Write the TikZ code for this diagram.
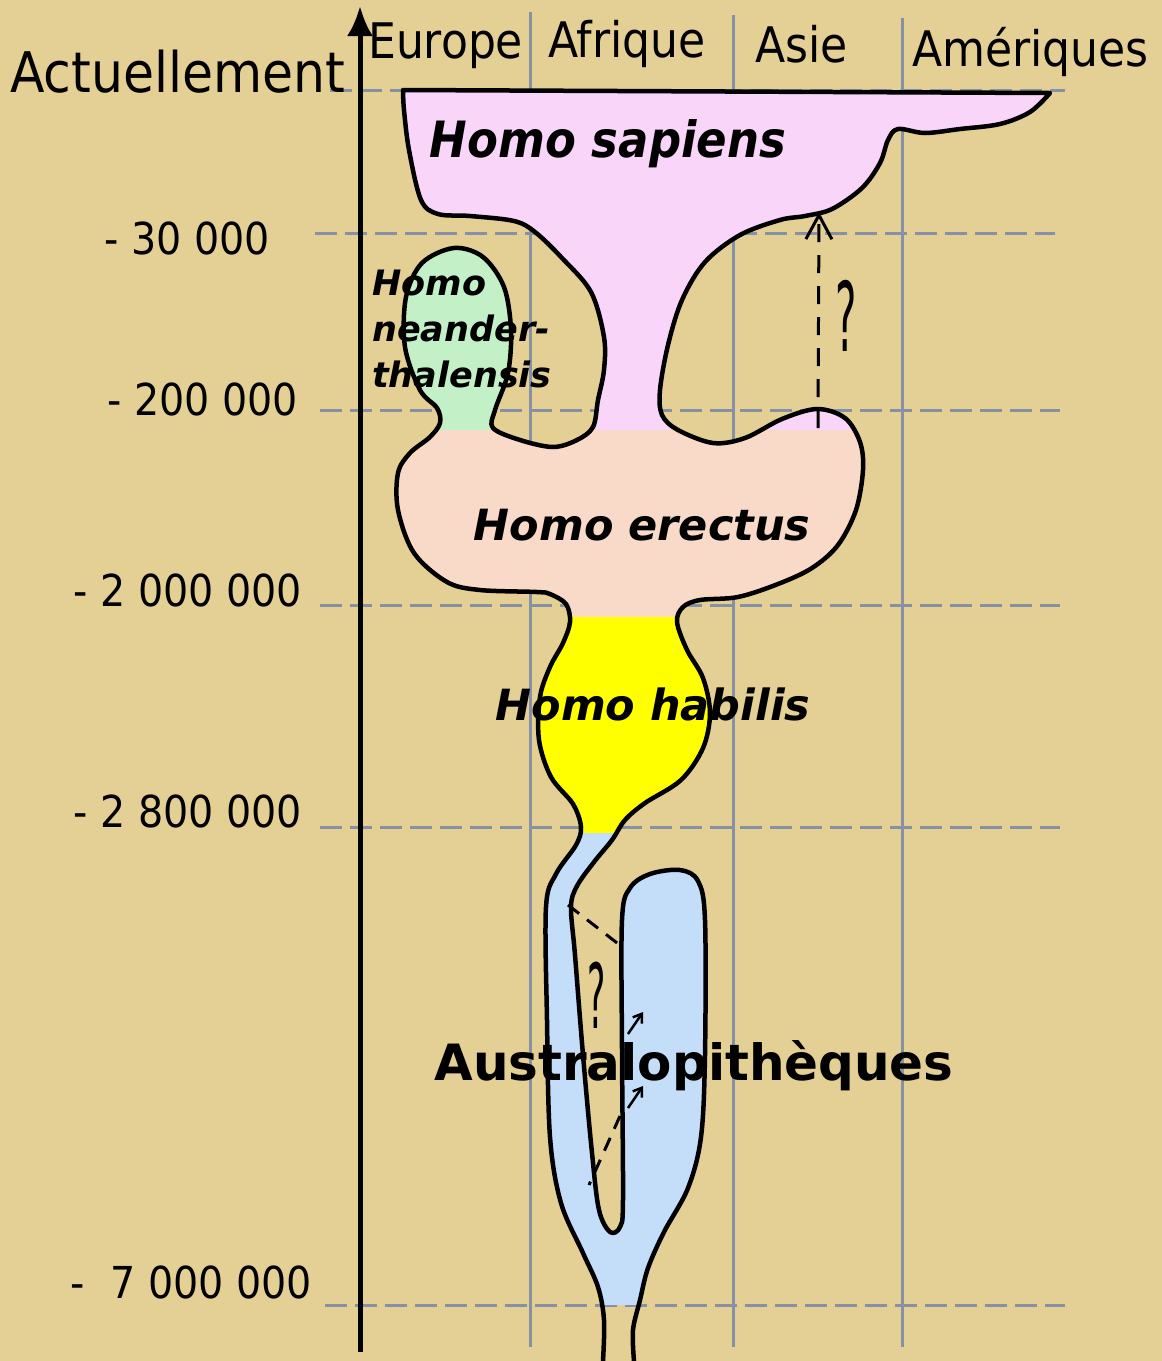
\documentclass[tikz,border=0pt]{standalone}
\usepackage{fontspec}
\setmainfont{DejaVu Sans}
\newfontfamily\condfont{DejaVu Sans Condensed}
\usetikzlibrary{arrows.meta}

\definecolor{papyrus}{RGB}{228,207,148}
\definecolor{gridgrey}{RGB}{135,145,165}
\definecolor{sapcol}{RGB}{249,214,249}
\definecolor{neacol}{RGB}{196,240,200}
\definecolor{erecol}{RGB}{249,218,200}
\definecolor{habcol}{RGB}{255,255,0}
\definecolor{auscol}{RGB}{196,222,249}

% one outline for the whole tree, open at the bottom
\newcommand\hominoutline{%
  (403,90) -- (1050,93)
  -- plot[smooth, tension=0.55] coordinates {(1050,93) (1030,112) (1000,124) (960,129) (925,133)
     (898,129) (888,140) (880,163) (862,188) (832,209) (805,216) (780,220) (740,235) (705,262)
     (682,300) (668,345) (660,390) (662,415) (678,430) (713,443) (745,438) (782,419) (817,409)
     (845,418) (860,442) (863,470) (856,510) (838,545) (812,568) (778,584) (738,597) (700,600)
     (683,607) (677,622) (687,650) (703,678) (710,713) (703,748) (681,780) (645,803) (625,820)
     (612,840) (594,862) (577,886) (571,907) (575,955) (583,1055) (592,1153) (599,1210) (610,1232)
     (620,1227) (623,1200) (622,1050) (622,920) (630,888) (650,874) (680,870) (698,881) (705,920)
     (705,1055) (701,1137) (688,1188) (664,1232) (648,1268) (640,1300) (633,1330) (634,1361)}
  -- (634,1400) -- (603,1400)
  -- plot[smooth, tension=0.55] coordinates {(603,1361) (604,1320) (598,1287) (583,1253)
     (561,1203) (550,1137) (547,1020) (546,907) (556,874) (576,845) (581,827) (573,804) (551,777)
     (539,740) (540,697) (550,667) (563,643) (570,622) (566,604) (550,594) (537,592) (480,590)
     (447,582) (414,553) (398,510) (398,473) (410,453) (430,437) (440,423) (437,408) (420,390)
     (405,347) (406,297) (422,263) (454,248) (483,257) (504,287) (511,330) (508,373) (495,410)
     (493,428) (520,440) (553,447) (577,440) (593,427) (598,400) (604,370) (604,337) (591,292)
     (562,258) (535,232) (514,221) (470,216) (438,214) (421,200) (409,150) (404,110) (403,90)}
  -- cycle}

\begin{document}
\begin{tikzpicture}[
  x=1pt, y=-1pt,
  gridline/.style={draw=gridgrey, line width=3pt},
  timeline/.style={gridline, dash pattern=on 22pt off 8pt},
  outline/.style={draw=black, line width=4.5pt, line join=round},
  guess/.style={draw=black, line width=3pt, dash pattern=on 18pt off 13pt},
  axisline/.style={draw=black, line width=5pt, -{Latex[length=30pt, width=26pt]}},
  region/.style={font=\condfont\fontsize{49}{58}\selectfont, inner sep=0pt, anchor=base west},
  age/.style={font=\condfont\fontsize{44}{52}\selectfont, inner sep=0pt, anchor=base east},
  species/.style={font=\bfseries\itshape\fontsize{43}{46}\selectfont, inner sep=0pt, anchor=base},
  doubt/.style={font=\condfont\fontsize{64}{64}\selectfont, inner sep=0pt}
]
\useasboundingbox (0,0) rectangle (1162,1361);
\fill[papyrus] (0,0) rectangle (1162,1361);

% continents
\draw[gridline] (530,12) -- (530,1347);
\draw[gridline] (733,15) -- (733,1347);
\draw[gridline] (902,18) -- (902,1347);
% dates
\draw[timeline] (330,90) -- (1065,90);
\draw[timeline] (315,233) -- (1055,233);
\draw[timeline] (320,410) -- (1060,410);
\draw[timeline] (320,605) -- (1060,605);
\draw[timeline] (320,827) -- (1060,827);
\draw[timeline] (325,1305) -- (1065,1305);

% the tree, coloured in bands
\begin{scope}
  \clip \hominoutline;
  \fill[sapcol] (380,0) rectangle (1100,430);
  \fill[neacol] (380,240) rectangle (530,430);
  \fill[erecol] (380,430) rectangle (1100,617);
  \fill[habcol] (380,617) rectangle (1100,833);
  \fill[auscol] (380,833) rectangle (1100,1305);
\end{scope}
\draw[outline] \hominoutline;

% erectus -> sapiens ?
\coordinate (asiafoot) at (818,428);
\coordinate (asiatop) at (819,212);
\draw[guess, -{Straight Barb[length=24pt, width=26pt]}] (asiafoot) -- (asiatop);
\node[doubt] (qasia) at (846,316) {\scalebox{0.7}[1.5]{?}};

% australopithecus links
\coordinate (branchA) at (568,905);
\coordinate (blobA) at (621,946);
\coordinate (blobB) at (620,1116);
\coordinate (branchB) at (589,1185);
\draw[guess, dash pattern=on 14pt off 10pt] (branchA) -- (blobA);
\draw[guess, dash pattern=on 14pt off 10pt] (blobB) -- (branchB);
\node[doubt] (qaus) at (597,995) {\scalebox{0.6}[1.4]{?}};
\coordinate (upA) at (628,1034);
\coordinate (upB) at (643,1012);
\coordinate (upC) at (628,1108);
\coordinate (upD) at (643,1086);
\draw[line width=2.5pt, -{Straight Barb[length=8pt, width=11pt]}] (upA) -- (upB);
\draw[line width=2.5pt, -{Straight Barb[length=8pt, width=11pt]}] (upC) -- (upD);

% time axis
\coordinate (axisfoot) at (360,1352);
\coordinate (axistop) at (360,6);
\draw[axisline] (axisfoot) -- (axistop);

\node[region] (europe) at (368,58) {Europe};
\node[region] (afrique) at (548,57) {Afrique};
\node[region] (asie) at (755,62) {Asie};
\node[region] (amer) at (912,66) {Amériques};

\node[age, font=\condfont\fontsize{56}{60}\selectfont] (now) at (345,92) {Actuellement};
\node[age] (t30k) at (270,254) {- 30 000};
\node[age] (t200k) at (298,415) {- 200 000};
\node[age] (t2m) at (302,606) {- 2 000 000};
\node[age] (t28m) at (302,827) {- 2 800 000};
\node[age] (t7m) at (312,1298) {-\ \ 7 000 000};

\node[species, font=\condfont\bfseries\itshape\fontsize{50}{56}\selectfont] (sapiens) at (608,157) {Homo sapiens};
\node[species, font=\bfseries\itshape\fontsize{35}{46}\selectfont, align=left, anchor=north west]
  (neander) at (372,270) {Homo\\neander-\\thalensis};
\node[species] (erectus) at (642,540) {Homo erectus};
\node[species] (habilis) at (653,720) {Homo habilis};
\node[species, font=\bfseries\fontsize{50}{56}\selectfont] (austral) at (694,1080) {Australopithèques};
\end{tikzpicture}
\end{document}
